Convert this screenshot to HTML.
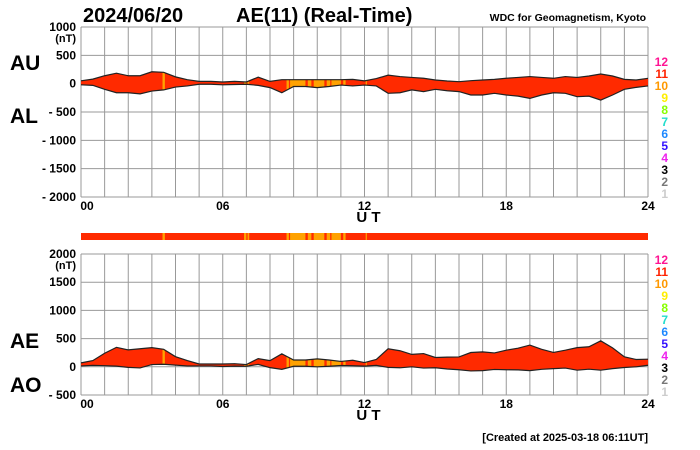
<!DOCTYPE html>
<html><head><meta charset="utf-8"><style>
body{margin:0;background:#fff;width:700px;height:450px;overflow:hidden}
svg{display:block;font-family:"Liberation Sans",Arial,sans-serif}
</style></head><body>
<svg id="c" width="700" height="450" viewBox="0 0 700 450"></svg>
<script>
const hours=[0,0.5,1,1.5,2,2.5,3,3.5,4,4.5,5,5.5,6,6.5,7,7.5,8,8.5,9,9.5,10,10.5,11,11.5,12,12.5,13,13.5,14,14.5,15,15.5,16,16.5,17,17.5,18,18.5,19,19.5,20,20.5,21,21.5,22,22.5,23,23.5,24];
const auValues=[50,80,140,185,140,140,210,200,120,70,40,40,30,40,30,115,40,70,70,70,70,70,70,76,50,90,150,125,110,95,65,47,35,53,65,76,95,110,125,110,95,125,110,135,170,135,76,65,95];
const alValues=[-20,-30,-100,-160,-160,-180,-130,-110,-60,-40,-10,-10,-20,-15,-10,-30,-70,-160,-50,-50,-70,-50,-25,-40,-25,-40,-170,-160,-110,-140,-100,-125,-140,-200,-200,-170,-200,-220,-260,-200,-160,-170,-230,-220,-290,-200,-100,-65,-40];
const orangeIntervals=[[3.45,3.55],[6.9,7.0],[7.05,7.12],[8.7,8.8],[8.85,9.5],[9.6,9.75],[9.85,10.3],[10.4,10.55],[10.6,11.0],[11.1,11.2],[12.05,12.1]];
const xTicks=["00","06","12","18","24"];
const topTicks=[1000,500,0,-500,-1000,-1500,-2000];
const botTicks=[2000,1500,1000,500,0,-500];
const legendNums=["12","11","10","9","8","7","6","5","4","3","2","1"];
const legendColors=["#ff1493","#ff2200","#ff9900","#ffee00","#88ff00","#22ddcc","#1e88ff","#3311ff","#ee22ee","#000","#777","#ccc"];

const NS="http://www.w3.org/2000/svg",svg=document.getElementById('c');
function el(t,a,p){const e=document.createElementNS(NS,t);for(const k in a)e.setAttribute(k,a[k]);(p||svg).appendChild(e);return e}
function txt(s,a,p){const e=el('text',a,p);e.textContent=s;return e}
const X0=81,X1=648;const xs=h=>X0+(X1-X0)*h/24;
const RED="#ff2a00",ORG="#ffa200";
const aeValues=auValues.map((u,i)=>u-alValues[i]);
const aoValues=auValues.map((u,i)=>(u+alValues[i])/2);

function panel(name,yT,yB,vMax,vMin,ticks,upper,lower,lab1,lab2,labY1,labY2,legY){
  const ys=v=>yT+(vMax-v)*(yB-yT)/(vMax-vMin);
  const g=el('g',{},svg);
  
  
  for(let h=0;h<=24;h++){const l=el('line',{x1:xs(h),x2:xs(h),y1:yT,y2:yB,stroke:'#999','stroke-width':1},g);
    }
  ticks.forEach(v=>{const l=el('line',{x1:X0,x2:X1,y1:ys(v),y2:ys(v),stroke:'#999','stroke-width':1},g);
    
    const t=txt(v<0?'- '+(-v):String(v),{x:76,y:ys(v)+4,'text-anchor':'end','font-size':12,'font-weight':'bold'},g);
    });
  const nt=txt('(nT)',{x:76,y:ys(ticks[0])+15,'text-anchor':'end','font-size':11,'font-weight':'bold'},g);
  
  let up=hours.map((h,i)=>xs(h)+','+ys(upper[i])).join(' ');
  let lo=hours.map((h,i)=>xs(h)+','+ys(lower[i])).reverse().join(' ');
  const cp=el('clipPath',{id:'clip-'+name},g);el('polygon',{points:up+' '+lo},cp);
  const f=el('polygon',{points:up+' '+lo,fill:RED},g);
  
  orangeIntervals.forEach(iv=>{const r=el('rect',{x:xs(iv[0]),y:yT,width:xs(iv[1])-xs(iv[0]),height:yB-yT,fill:ORG,'clip-path':'url(#clip-'+name+')'},g);
    });
  const l1=el('polyline',{points:up,fill:'none',stroke:'#222','stroke-width':1.2},g);
  
  const l2=el('polyline',{points:hours.map((h,i)=>xs(h)+','+ys(lower[i])).join(' '),fill:'none',stroke:'#222','stroke-width':1.2},g);
  
  xTicks.forEach((s,i)=>{const t=txt(s,{x:xs(i*6)+(i==0?6:0),y:yB+13,'text-anchor':'middle','font-size':12,'font-weight':'bold'},g);
    });
  const ut=txt('U T',{x:xs(12)+4,y:yB+25,'text-anchor':'middle','font-size':15,'font-weight':'bold'},g);
  
  const a=txt(lab1,{x:10,y:labY1,'font-size':21,'font-weight':'bold'},g);
  
  const b=txt(lab2,{x:10,y:labY2,'font-size':21,'font-weight':'bold'},g);
  
  legendNums.forEach((n,i)=>{const t=txt(n,{x:668,y:legY+i*12,'text-anchor':'end','font-size':12,'font-weight':'bold',fill:legendColors[i]},g);
    });
}
panel('au-al',27,197,1000,-2000,topTicks,auValues,alValues,'AU','AL',70,123,66);
panel('ae-ao',254,395,2000,-500,botTicks,aeValues,aoValues,'AE','AO',348,392,264);

const bar=el('g',{});

el('rect',{x:X0,y:233,width:X1-X0,height:7,fill:RED},bar);
orangeIntervals.forEach(iv=>{el('rect',{x:xs(iv[0]),y:233,width:xs(iv[1])-xs(iv[0]),height:7,fill:ORG},bar);});

const t1=txt('2024/06/20',{x:83,y:22,'font-size':20,'font-weight':'bold'});

const t2=txt('AE(11) (Real-Time)',{x:236,y:22,'font-size':20,'font-weight':'bold'});

const t3=txt('WDC for Geomagnetism, Kyoto',{x:646,y:21,'text-anchor':'end','font-size':10.5,'font-weight':'bold'});

const t4=txt('[Created at 2025-03-18 06:11UT]',{x:648,y:441,'text-anchor':'end','font-size':11,'font-weight':'bold'});

</script>
</body></html>
